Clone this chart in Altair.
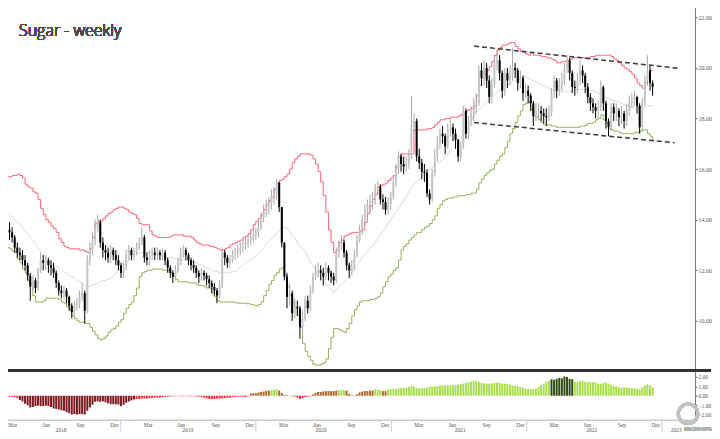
import altair as alt
import pandas as pd

START = "2018-02-28"
FIRST_OPEN = 13.8

close = [13.6,13.5,13.3,12.9,12.7,12.6,12.4,12.2,11.8,11.35,
 11.6,11.3,12.0,12.4,12.3,12.4,12.2,12.1,11.9,11.5,
 11.2,11.1,11.2,10.95,10.6,10.35,10.6,10.7,10.95,11.1,
 10.4,12.4,12.8,13.2,13.7,13.9,13.1,12.8,12.7,12.5,
 12.8,12.6,12.4,12.2,11.9,12.1,12.6,12.8,12.6,12.7,
 12.9,13.1,13.3,12.5,12.4,12.6,12.7,12.6,12.7,12.6,
 12.7,12.4,12.1,11.9,11.75,12.0,12.3,12.7,12.8,12.6,
 12.4,12.2,12.1,11.9,11.75,11.9,11.8,11.65,11.5,11.35,
 11.2,11.0,11.4,12.7,12.5,12.3,12.4,12.6,12.7,12.8,
 12.9,13.0,13.1,13.2,13.3,13.4,13.5,13.7,14.1,14.3,
 14.5,14.65,14.9,15.05,15.45,14.5,13.1,11.75,10.95,11.1,
 10.3,10.55,10.5,9.75,10.1,10.8,10.5,11.2,11.75,11.9,
 12.0,11.9,11.75,12.1,11.9,11.75,11.6,12.7,12.95,13.1,
 12.7,12.2,12.0,12.1,12.6,13.2,13.6,14.0,14.4,14.6,
 14.7,14.8,15.2,15.3,14.8,14.7,14.4,14.6,14.9,15.45,
 16.0,16.5,16.2,16.1,16.2,16.5,17.65,17.9,16.5,16.25,
 15.9,15.85,15.05,14.8,15.85,16.5,17.0,17.4,17.3,16.9,
 17.55,17.65,17.4,17.15,16.5,16.9,18.3,17.4,17.9,18.2,
 18.45,18.6,19.9,19.6,20.0,19.5,18.85,19.4,20.2,20.3,
 19.8,19.1,19.8,19.5,19.7,20.0,19.9,19.4,19.6,19.0,
 19.1,18.9,18.6,18.1,18.3,18.3,18.2,18.1,18.05,18.2,
 19.0,19.5,19.1,19.3,19.5,20.0,20.3,19.8,19.25,19.2,
 19.5,19.9,19.7,19.25,18.85,18.6,18.45,18.3,18.45,19.25,
 18.6,17.9,17.65,18.45,18.2,18.3,18.05,18.2,17.9,18.3,
 18.6,18.7,18.85,18.5,17.65,18.6,19.5,19.9,19.4,19.25]

high = [14.0,13.9,13.7,13.4,13.1,12.9,12.8,12.6,12.3,11.9,
 11.8,11.7,12.1,12.7,12.6,12.6,12.5,12.4,12.3,12.0,
 11.6,11.4,11.4,11.3,11.0,10.7,10.8,10.9,11.2,11.5,
 11.2,12.6,13.1,13.5,14.0,14.2,14.0,13.3,13.0,12.9,
 13.0,12.9,12.8,12.6,12.3,12.3,12.8,13.0,12.9,12.9,
 13.1,13.3,13.7,13.4,12.7,12.8,12.9,12.9,12.9,12.8,
 12.9,12.8,12.5,12.2,12.0,12.2,12.5,12.9,13.0,12.9,
 12.7,12.5,12.4,12.2,12.0,12.1,12.0,11.9,11.8,11.6,
 11.5,11.3,11.6,12.9,12.8,12.6,12.6,12.8,12.9,13.0,
 13.1,13.2,13.3,13.4,13.5,13.6,13.7,14.0,14.3,14.6,
 14.8,14.9,15.2,15.3,15.6,15.5,14.5,13.1,11.9,11.5,
 11.2,10.9,10.8,10.6,10.4,11.0,11.0,11.4,11.9,12.2,
 12.3,12.2,12.1,12.3,12.2,12.0,11.9,12.9,13.2,13.4,
 13.2,12.8,12.3,12.4,12.8,13.4,13.8,14.2,14.6,14.8,
 15.0,15.1,15.4,15.5,15.4,15.0,14.9,14.9,15.1,15.6,
 16.2,16.7,16.6,16.5,16.5,16.8,18.9,18.2,18.0,16.8,
 16.4,16.2,16.0,15.2,16.0,16.8,17.3,17.6,17.7,17.4,
 17.8,18.0,17.8,17.6,17.2,17.1,18.5,18.4,18.1,18.5,
 18.8,19.0,20.1,20.2,20.3,20.2,19.7,19.6,20.4,20.6,
 20.5,19.9,20.0,20.0,20.1,20.8,20.2,20.0,19.9,19.7,
 19.4,19.3,19.0,18.7,18.6,18.6,18.5,18.4,18.4,18.5,
 19.2,19.7,19.6,19.6,19.8,20.2,20.5,20.4,19.9,19.5,
 19.8,20.3,20.1,19.8,19.4,19.0,18.8,18.6,18.7,19.5,
 19.3,18.7,18.0,18.6,18.6,18.6,18.4,18.5,18.3,18.6,
 18.9,19.0,19.1,18.9,18.6,18.8,19.7,20.5,20.1,19.5]

low = [13.3,13.2,13.1,12.7,12.5,12.4,12.2,12.0,11.6,10.8,
 11.2,11.1,11.2,11.9,12.0,12.0,11.9,11.8,11.7,11.3,
 11.0,10.9,10.9,10.7,10.4,10.1,10.2,10.4,10.5,10.8,
 9.9,10.3,12.2,12.6,13.0,13.5,12.9,12.5,12.4,12.3,
 12.3,12.4,12.2,12.0,11.7,11.7,12.0,12.4,12.4,12.4,
 12.6,12.8,13.0,12.3,12.2,12.2,12.4,12.4,12.4,12.4,
 12.4,12.2,11.9,11.7,11.5,11.6,11.9,12.2,12.5,12.4,
 12.2,12.0,11.9,11.7,11.5,11.6,11.6,11.4,11.3,11.1,
 11.0,10.7,10.9,11.3,12.2,12.1,12.1,12.3,12.4,12.5,
 12.6,12.7,12.8,12.9,13.0,13.1,13.2,13.3,13.6,13.9,
 14.1,14.2,14.4,14.6,14.8,14.3,12.9,11.6,10.5,10.6,
 10.0,10.1,10.2,9.3,9.6,10.0,10.3,10.4,11.1,11.6,
 11.7,11.6,11.4,11.6,11.6,11.5,11.4,11.5,12.5,12.8,
 12.5,12.0,11.7,11.8,12.0,12.5,13.1,13.4,13.8,14.2,
 14.3,14.4,14.6,15.0,14.6,14.4,14.2,14.2,14.4,14.8,
 15.3,15.8,15.9,15.8,15.9,16.0,16.4,17.4,16.3,16.0,
 15.6,15.5,14.9,14.6,14.7,15.7,16.3,16.8,17.0,16.6,
 16.8,17.3,17.1,16.8,16.3,16.3,16.8,17.2,17.2,17.7,
 17.9,18.2,18.5,19.3,19.3,19.2,18.6,18.6,19.2,19.9,
 19.5,18.8,18.9,19.2,19.3,19.5,19.6,19.1,19.2,18.7,
 18.8,18.6,18.3,17.7,17.9,18.0,17.9,17.8,17.7,17.9,
 18.1,18.8,18.8,18.9,19.1,19.3,19.8,19.5,19.0,18.9,
 19.0,19.3,19.4,19.0,18.6,18.3,18.2,18.0,18.0,18.3,
 18.3,17.6,17.3,17.5,17.9,17.9,17.7,17.8,17.6,17.7,
 18.1,18.4,18.5,18.2,17.4,17.5,18.5,19.3,19.1,18.9]

upper = [15.7,15.7,15.75,15.75,15.8,15.75,15.65,15.4,15.3,15.25,
 15.1,15.05,14.8,14.45,14.2,14.0,13.9,13.75,13.65,13.5,
 13.25,13.1,12.95,12.9,12.85,12.85,12.85,12.85,12.8,12.8,
 12.75,12.7,12.85,13.3,13.85,13.95,13.95,14.05,14.15,14.25,
 14.3,14.4,14.45,14.5,14.5,14.45,14.4,14.3,14.25,14.2,
 14.05,13.85,13.8,13.8,13.8,13.55,13.4,13.35,13.3,13.3,
 13.3,13.3,13.3,13.35,13.4,13.4,13.4,13.4,13.35,13.35,
 13.35,13.3,13.2,13.1,13.05,13.0,13.0,13.0,12.95,12.95,
 12.9,12.85,12.8,12.8,12.85,12.9,13.0,13.05,13.1,13.15,
 13.2,13.3,13.35,13.45,13.6,13.8,13.95,14.05,14.2,14.4,
 14.6,14.75,14.9,15.2,15.45,15.55,15.6,15.7,15.8,16.0,
 16.25,16.4,16.5,16.6,16.6,16.6,16.6,16.55,16.4,16.2,
 15.9,15.5,14.95,14.3,13.6,13.1,12.7,12.8,13.1,13.2,
 13.35,13.4,13.45,13.5,13.5,13.5,13.55,13.6,13.9,14.25,
 14.55,14.8,15.0,15.3,15.35,15.4,15.45,15.55,15.65,15.75,
 16.1,16.5,16.6,16.6,16.6,16.6,16.6,17.55,17.55,17.55,
 17.55,17.55,17.6,17.6,17.65,17.75,17.85,17.95,17.95,18.0,
 18.0,18.05,18.05,18.05,18.1,18.15,18.2,18.3,18.35,18.4,
 18.5,18.9,19.3,19.6,19.75,19.9,20.05,20.25,20.5,20.7,
 20.8,20.9,20.9,20.95,21.0,21.0,20.85,20.75,20.65,20.6,
 20.55,20.5,20.6,20.5,20.5,20.5,20.45,20.45,20.4,20.4,
 20.35,20.3,20.2,20.2,20.25,20.25,20.3,20.35,20.4,20.4,
 20.4,20.4,20.4,20.4,20.4,20.45,20.45,20.5,20.5,20.5,
 20.5,20.5,20.5,20.45,20.35,20.3,20.2,20.1,20.0,19.95,
 19.85,19.75,19.6,19.4,19.3,19.2,19.4,19.7,19.9,19.9]

lower = [12.9,12.85,12.75,12.7,12.45,12.3,12.05,11.9,11.6,11.45,
 11.0,10.75,10.75,10.75,10.8,10.9,10.9,10.9,10.9,10.9,
 10.85,10.75,10.7,10.55,10.45,10.2,10.1,10.0,9.95,9.95,
 9.9,9.9,9.75,9.6,9.45,9.3,9.25,9.3,9.4,9.55,
 9.65,9.7,9.8,9.95,10.05,10.3,10.5,10.65,10.75,11.0,
 11.3,11.75,11.9,11.95,12.0,12.0,12.05,12.05,12.05,12.05,
 12.0,12.0,12.0,11.9,11.75,11.65,11.55,11.55,11.55,11.55,
 11.5,11.5,11.5,11.45,11.4,11.4,11.35,11.3,11.3,11.1,
 10.95,10.8,10.75,10.75,10.75,10.75,10.75,10.75,10.72,10.7,
 10.7,10.7,10.68,10.68,10.65,10.62,10.6,10.65,10.75,11.0,
 11.2,11.45,11.6,11.8,11.9,12.05,12.1,11.8,11.35,11.0,
 10.75,10.55,10.2,9.75,9.1,8.8,8.6,8.45,8.3,8.25,
 8.25,8.3,8.35,8.5,8.9,9.35,9.7,9.7,9.65,9.6,
 9.55,9.7,9.9,10.2,10.45,10.6,10.75,10.8,10.8,10.8,
 10.85,10.85,10.9,10.95,11.1,11.35,11.55,11.75,11.85,12.0,
 12.1,12.4,12.8,12.95,13.05,13.2,13.3,13.4,13.5,13.5,
 13.6,13.7,13.75,13.85,14.0,14.15,14.45,14.6,14.75,14.8,
 14.85,14.85,14.9,14.9,14.95,14.95,14.95,15.0,15.0,15.05,
 15.05,15.2,15.45,15.6,15.75,15.85,15.95,16.0,16.2,16.35,
 16.5,16.6,16.85,17.1,17.4,17.6,17.85,18.1,18.3,18.55,
 18.6,18.65,18.35,18.1,18.05,17.95,17.85,17.75,17.75,17.75,
 17.7,17.7,17.65,17.65,17.65,17.65,17.65,17.65,17.65,17.65,
 17.65,17.7,17.7,17.75,17.8,17.8,17.85,17.95,18.0,18.15,
 17.95,17.8,17.6,17.55,17.5,17.5,17.45,17.4,17.4,17.4,
 17.4,17.4,17.45,17.45,17.5,17.55,17.55,17.4,17.3,17.15]

ma = [14.3,14.2,14.1,14.0,13.9,13.85,13.7,13.55,13.45,13.3,
 13.2,13.05,12.9,12.75,12.6,12.5,12.4,12.3,12.2,12.15,
 12.1,12.0,11.95,11.9,11.8,11.75,11.7,11.6,11.55,11.5,
 11.4,11.35,11.35,11.4,11.45,11.5,11.55,11.6,11.6,11.65,
 11.7,11.75,11.85,12.0,12.1,12.2,12.3,12.4,12.5,12.55,
 12.65,12.7,12.7,12.7,12.7,12.7,12.7,12.65,12.6,12.6,
 12.55,12.55,12.5,12.5,12.5,12.45,12.45,12.4,12.4,12.4,
 12.4,12.35,12.3,12.3,12.25,12.2,12.15,12.1,12.05,12.0,
 11.95,11.95,11.9,11.9,11.9,11.9,11.9,11.95,11.95,12.0,
 12.15,12.2,12.3,12.35,12.4,12.5,12.55,12.65,12.75,12.9,
 13.05,13.15,13.25,13.35,13.45,13.55,13.65,13.7,13.65,13.55,
 13.4,13.3,13.1,12.95,12.85,12.75,12.55,12.35,12.15,12.0,
 11.85,11.75,11.6,11.5,11.35,11.25,11.15,11.2,11.35,11.45,
 11.55,11.65,11.75,11.9,12.05,12.2,12.35,12.5,12.6,12.75,
 12.85,12.95,13.1,13.25,13.4,13.55,13.65,13.85,14.0,14.15,
 14.3,14.4,14.6,14.75,14.9,15.1,15.3,15.4,15.5,15.6,
 15.7,15.8,15.85,15.95,16.05,16.15,16.2,16.3,16.35,16.5,
 16.6,16.75,16.9,17.0,17.1,17.2,17.35,17.5,17.7,17.9,
 18.1,18.25,18.35,18.45,18.55,18.65,18.75,18.85,18.95,19.05,
 19.1,19.2,19.3,19.35,19.4,19.45,19.5,19.55,19.6,19.65,
 19.65,19.6,19.55,19.5,19.45,19.4,19.35,19.3,19.25,19.2,
 19.15,19.1,19.1,19.1,19.05,19.05,19.05,19.05,19.1,19.1,
 19.15,19.15,19.15,19.15,19.15,19.1,19.1,19.05,19.0,18.95,
 18.9,18.85,18.8,18.75,18.7,18.7,18.65,18.6,18.55,18.5,
 18.5,18.45,18.45,18.45,18.45,18.45,18.45,18.5,18.5,18.5]

hist = [-0.05,-0.1,-0.12,-0.15,-0.25,-0.45,-0.6,-0.85,-1.0,-1.25,
 -1.2,-1.1,-1.05,-1.1,-1.1,-1.05,-1.1,-1.2,-1.35,-1.4,
 -1.45,-1.55,-1.6,-1.75,-1.85,-2.0,-1.95,-2.0,-1.95,-1.95,
 -2.0,-1.6,-1.25,-0.95,-0.65,-0.6,-0.65,-0.6,-0.7,-0.8,
 -0.9,-0.9,-0.9,-0.95,-1.1,-0.95,-0.75,-0.6,-0.5,-0.4,
 -0.35,-0.35,-0.3,-0.3,-0.3,-0.25,-0.25,-0.2,-0.2,-0.2,
 -0.15,-0.12,-0.1,-0.08,-0.05,-0.05,-0.04,-0.05,-0.05,-0.04,
 -0.05,-0.05,-0.06,-0.08,-0.1,-0.12,-0.2,-0.3,-0.35,-0.35,
 -0.35,-0.3,-0.3,-0.28,-0.25,-0.22,-0.2,-0.15,-0.12,-0.1,
 -0.1,-0.12,-0.15,-0.05,0.25,0.28,0.3,0.35,0.4,0.45,
 0.5,0.55,0.6,0.65,0.7,0.55,0.3,0.1,0.05,0.02,
 -0.05,-0.1,-0.2,-0.35,-0.25,-0.15,-0.1,-0.05,0.15,0.3,
 0.4,0.4,0.45,0.5,0.5,0.5,0.5,0.55,0.6,0.62,
 0.6,0.55,0.2,0.05,-0.05,0.15,0.35,0.45,0.5,0.5,
 0.55,0.55,0.7,0.65,0.6,0.5,0.5,0.7,0.7,0.72,
 0.7,0.8,0.82,0.85,0.85,0.95,1.0,1.0,0.8,0.78,
 0.78,0.8,0.85,0.95,0.95,1.0,1.0,1.05,1.1,1.1,
 1.1,1.1,1.12,1.15,1.2,1.25,1.3,1.35,1.45,1.5,
 1.6,1.55,1.5,1.4,1.3,1.3,1.28,1.3,1.35,1.4,
 1.38,1.3,1.3,1.25,1.15,1.1,1.05,1.0,0.95,0.85,
 0.8,0.7,0.7,0.7,0.75,0.95,1.15,1.3,1.5,1.6,
 1.75,1.7,1.8,1.9,1.85,2.05,2.0,1.8,1.75,1.5,
 1.5,1.55,1.6,1.5,1.45,1.45,1.45,1.4,1.3,1.3,
 1.35,1.4,1.3,1.15,1.0,1.0,0.9,0.85,0.9,0.9,
 0.85,0.8,0.8,0.75,0.7,0.9,1.1,1.2,1.1,0.9]

trend_dates = ["2021-08-12", "2023-02-17"]
trend_upper = [20.86, 19.98]
trend_dates_low = ["2021-08-12", "2023-02-04"]
trend_lower = [17.84, 17.04]

month_ticks = ["2018-03-01","2018-06-01","2018-09-01","2018-12-01",
               "2019-03-01","2019-06-01","2019-09-01","2019-12-01",
               "2020-03-01","2020-06-01","2020-09-01","2020-12-01",
               "2021-03-01","2021-06-01","2021-09-01","2021-12-01",
               "2022-03-01","2022-06-01","2022-09-01","2022-12-01"]
month_names = ["Mar", "Jun", "Sep", "Dec"] * 5
year_names = ["2018", "2019", "2020", "2021", "2022", "2023"]
year_label_dates = ["2018-07-24", "2019-07-01", "2020-06-25", "2021-07-06", "2022-06-26", "2023-02-09"]
year_starts = ["2019-01-01", "2020-01-01", "2021-01-01", "2022-01-01", "2023-01-01"]

# ---------------- tables ----------------
dates = pd.date_range(START, periods=len(close), freq="7D")
dstr = [d.strftime("%Y-%m-%d") for d in dates]
opens = [FIRST_OPEN] + close[:-1]

HCOL = {"negbig": "#7d1a1f", "neg": "#ff2a3a", "possmall": "#b6692a",
        "pos": "#a9df4f", "posbig": "#2f4d12"}

def hcat(v):
    if v <= -0.4:
        return HCOL["negbig"]
    if v < 0:
        return HCOL["neg"]
    if v < 0.58:
        return HCOL["possmall"]
    if v < 1.7:
        return HCOL["pos"]
    return HCOL["posbig"]

df = pd.DataFrame({"date": dstr, "open": opens, "close": close, "high": high,
                   "low": low, "upper": upper, "lower": lower, "ma": ma,
                   "hist": hist})
down = [c < o for o, c in zip(opens, close)]
df["wick_col"] = ["#000000" if d else "#a8a8a8" for d in down]
df["body_col"] = ["#000000" if d else "#c6c6c6" for d in down]
df["hcol"] = [hcat(v) for v in hist]

trend_df = pd.DataFrame({"date": trend_dates + trend_dates_low,
                         "value": trend_upper + trend_lower,
                         "line": ["up", "up", "lo", "lo"]})
month_df = pd.DataFrame({"date": month_ticks, "name": month_names})
year_df = pd.DataFrame({"date": year_label_dates, "name": year_names})
ystart_df = pd.DataFrame({"date": year_starts})

W = 695
H_MAIN = 371
H_SUB = 48

xscale = alt.Scale(type="utc", domain=[alt.DateTime(year=2018, month=2, date=25, hours=12, utc=True),
                                       alt.DateTime(year=2023, month=3, date=18, utc=True)])
x_main = alt.X("date:T", scale=xscale, axis=None)

y_axis = alt.Axis(orient="right", values=[10, 12, 14, 16, 18, 20, 22], format=".2f",
                  labelFontSize=6, labelFont="Liberation Serif", labelColor="#555",
                  tickSize=2, tickColor="#666", domainColor="#777", grid=False,
                  labelPadding=1, title=None)
yscale = alt.Scale(domain=[8.03, 22.67], nice=False, zero=False)

base = alt.Chart(df)
wick = base.mark_rule(strokeWidth=1).encode(
    x=x_main, y=alt.Y("low:Q", scale=yscale, axis=y_axis), y2="high:Q",
    color=alt.Color("wick_col:N", scale=None))
body = base.mark_bar(size=2).encode(
    x=x_main, y=alt.Y("open:Q", scale=yscale), y2="close:Q",
    color=alt.Color("body_col:N", scale=None))
ma_line = base.mark_line(color="#d9d9d9", strokeWidth=1).encode(
    x=x_main, y=alt.Y("ma:Q", scale=yscale))
up_line = base.mark_line(color="#ff6478", strokeWidth=1, interpolate="step-after").encode(
    x=x_main, y=alt.Y("upper:Q", scale=yscale))
lo_line = base.mark_line(color="#93b356", strokeWidth=1, interpolate="step-after").encode(
    x=x_main, y=alt.Y("lower:Q", scale=yscale))
trend = alt.Chart(trend_df).mark_line(color="#3a3a3a", strokeWidth=1.5, strokeDash=[5, 3]).encode(
    x=x_main, y=alt.Y("value:Q", scale=yscale), detail="line:N")
title = alt.Chart(df).mark_text(text="Sugar - weekly", align="left", baseline="middle",
                                fontSize=16, font="Open Sans", fontWeight=300,
                                color="#4a4a4a").encode(x=alt.value(18), y=alt.value(31))
sep = alt.Chart(df).mark_rule(color="#333", strokeWidth=2).encode(
    x=alt.value(0), x2=alt.value(711), y=alt.value(H_MAIN))

main = alt.layer(ma_line, up_line, lo_line, wick, body, trend, title, sep).properties(
    width=W, height=H_MAIN)

# ---------------- sub panel ----------------
sub_x_axis = alt.Axis(labels=False, ticks=False, domainColor="#b0b0b0", grid=False, title=None)
x_sub = alt.X("date:T", scale=xscale, axis=sub_x_axis)
sub_yscale = alt.Scale(domain=[-2.55, 2.55], nice=False, zero=False)
sub_y_axis = alt.Axis(orient="right", values=[-2, -1, 0, 1, 2], format=".2f",
                      labelFontSize=5.5, labelFont="Liberation Serif", labelColor="#555",
                      tickSize=2, tickColor="#666", domainColor="#777", grid=False,
                      labelPadding=1, title=None)

hbars = alt.Chart(df).mark_bar(size=2).encode(
    x=x_sub,
    y=alt.Y("hist:Q", scale=sub_yscale, axis=sub_y_axis),
    y2=alt.datum(0),
    color=alt.Color("hcol:N", scale=None))
xs_plain = alt.X("date:T", scale=xscale)
month_txt = alt.Chart(month_df).mark_text(fontSize=5.5, font="Liberation Serif", color="#555",
                                          align="left", baseline="middle", dx=1).encode(
    x=xs_plain, y=alt.value(H_SUB + 5), text="name:N")
year_txt = alt.Chart(year_df).mark_text(fontSize=5.5, font="Liberation Serif", color="#555",
                                        baseline="middle").encode(
    x=xs_plain, y=alt.value(H_SUB + 10.5), text="name:N")
year_sep = alt.Chart(ystart_df).mark_rule(color="#cfcfcf", strokeWidth=1).encode(
    x=xs_plain, y=alt.value(H_SUB), y2=alt.value(H_SUB + 12))
logo = alt.Chart(df).mark_point(shape="circle", filled=False, size=380, stroke="#c2c2c2",
                                strokeWidth=3).encode(x=alt.value(688), y=alt.value(42))
logo_txt = alt.Chart(df).mark_text(text="MACRO OPS", fontSize=4.5, color="#b0b0b0",
                                   align="left", baseline="middle").encode(
    x=alt.value(684), y=alt.value(H_SUB + 10))

sub = alt.layer(hbars, year_sep, month_txt, year_txt, logo, logo_txt).properties(width=W, height=H_SUB)

chart = alt.vconcat(main, sub, spacing=0).properties(
    padding={"left": -8, "top": -8, "right": 0, "bottom": -1}
).configure_view(stroke=None).configure_concat(spacing=0)

chart.save("out.html", embed_options={"renderer": "svg", "actions": False})
